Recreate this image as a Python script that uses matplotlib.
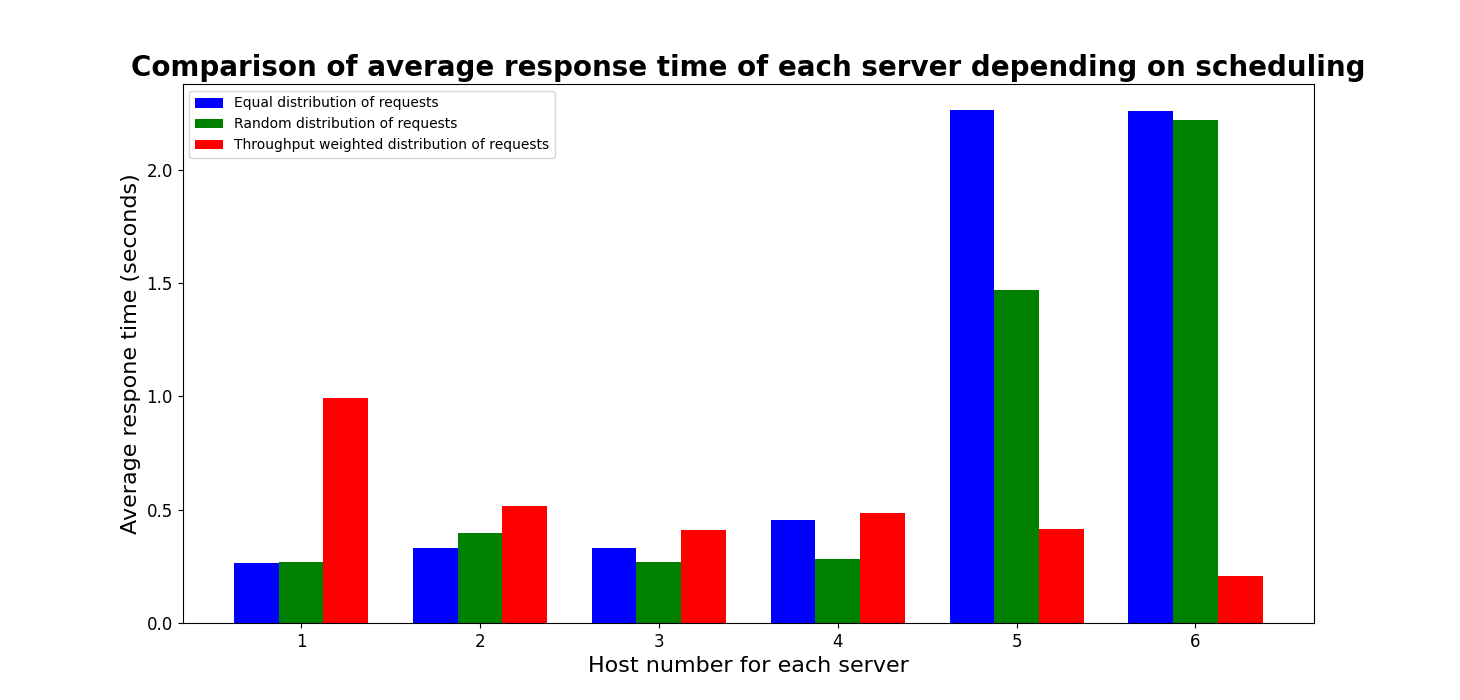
import matplotlib.pyplot as plt
import numpy as np

hosts = [1, 2, 3, 4, 5, 6]
equal = [0.265, 0.331, 0.331, 0.455, 2.265, 2.26]
random_dist = [0.27, 0.397, 0.27, 0.283, 1.47, 2.22]
weighted = [0.993, 0.517, 0.41, 0.486, 0.415, 0.207]

x = np.array(hosts)
w = 0.25

plt.figure(figsize=(14.6, 7), dpi=100)
plt.bar(x - w, equal, w, color="blue", label="Equal distribution of requests")
plt.bar(x, random_dist, w, color="green", label="Random distribution of requests")
plt.bar(x + w, weighted, w, color="red", label="Throughput weighted distribution of requests")

plt.title("Comparison of average response time of each server depending on scheduling",
          fontsize=20, fontweight="bold")
plt.xlabel("Host number for each server", fontsize=16)
plt.ylabel("Average respone time (seconds)", fontsize=16)
plt.xticks(x, fontsize=12)
plt.yticks(fontsize=12)
plt.legend(loc="upper left")
plt.savefig("out.png", dpi=100)
